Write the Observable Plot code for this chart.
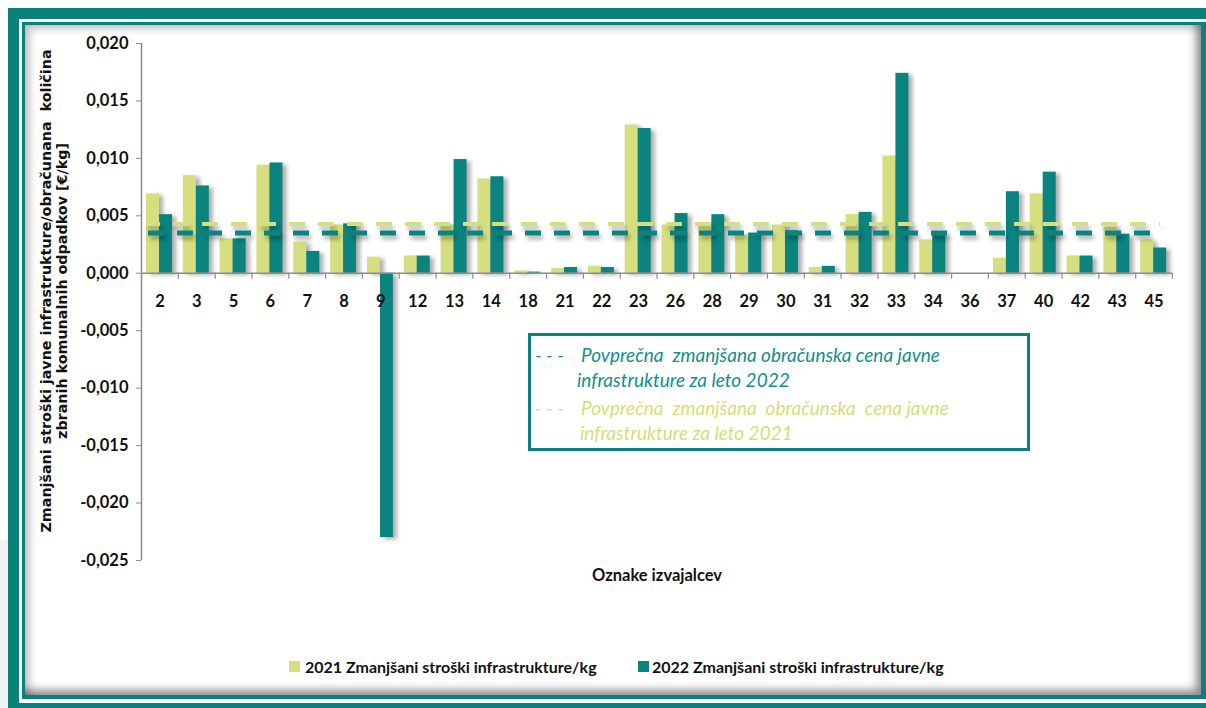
<!DOCTYPE html>
<html>
<head>
<meta charset="utf-8">
<script src="https://cdn.jsdelivr.net/npm/d3@7"></script>
<script src="https://cdn.jsdelivr.net/npm/@observablehq/plot@0.6"></script>
<style>
  html, body { margin: 0; padding: 0; background: #ffffff; width: 1206px; height: 708px; overflow: hidden; font-family: Lato, "Open Sans", sans-serif; }
  .abs { position: absolute; }
  #sideGray { left: 0; top: 540px; width: 8px; height: 168px; background: #eef2f2; }
  #outer { left: 8px; top: 8px; width: 1300px; height: 800px; background: #0b817c; }
  #gap { left: 19px; top: 19px; width: 1300px; height: 684px; background: #ffffff; }
  #inner { left: 22px; top: 22px; width: 1300px; height: 677px; background: #0b817c; }
  #panel { left: 25px; top: 25px; width: 1176px; height: 670px; background: #ffffff;
           box-shadow: inset 7px 6px 8px -3px rgba(0,0,0,0.28), inset -8px -8px 8px -3px rgba(0,0,0,0.45); }
  #chart { left: 0; top: 0; }
  #chart svg g[aria-label="bar"] { filter: drop-shadow(4px 2px 2px rgba(0,0,0,0.32)); }
  #chart svg g[aria-label="rule"][stroke-dasharray] { filter: drop-shadow(2px 4px 2px rgba(0,0,0,0.30)); }
  #avgBox { left: 528px; top: 333px; width: 496px; height: 112px; border: 3px solid #0b817c; }
  .avgLine { position: absolute; font-style: italic; font-size: 19px; white-space: pre; line-height: 1; }
  #legend { left: 0; top: 656px; width: 1206px; height: 22px; }
  .sw { position: absolute; width: 11px; height: 11px; top: 5px; }
  .lt { position: absolute; top: 0; font-weight: bold; font-size: 16px; color: #111; white-space: nowrap; line-height: 22px; }
</style>
</head>
<body>
<div id="sideGray" class="abs"></div>
<div id="outer" class="abs"></div>
<div id="gap" class="abs"></div>
<div id="inner" class="abs"></div>
<div id="panel" class="abs"></div>
<div id="chart" class="abs"></div>
<div id="avgBox" class="abs"></div>
<div id="legend" class="abs"></div>
<script>
// ---- data ----
const categories = ["2","3","5","6","7","8","9","12","13","14","18","21","22","23","26","28","29","30","31","32","33","34","36","37","40","42","43","45"];
const values2021 = [0.0069,0.0085,0.0030,0.0094,0.0027,0.0042,0.0014,0.0015,0.0042,0.0082,0.0002,0.0004,0.0006,0.0129,0.0042,0.0042,0.0033,0.0042,0.0005,0.0051,0.0102,0.0029,0,0.0013,0.0069,0.0015,0.0040,0.0029];
const values2022 = [0.0051,0.0076,0.0030,0.0096,0.0019,0.0043,-0.0230,0.0015,0.0099,0.0084,0.0001,0.0005,0.0005,0.0126,0.0052,0.0051,0.0035,0.0037,0.0006,0.0053,0.0174,0.0035,0,0.0071,0.0088,0.0015,0.0034,0.0022];
const average2021 = 0.0043;
const average2022 = 0.0035;
const yTicks = [0.020,0.015,0.010,0.005,0,-0.005,-0.010,-0.015,-0.020,-0.025];
const seriesNames = ["2021 Zmanjšani stroški infrastrukture/kg", "2022 Zmanjšani stroški infrastrukture/kg"];
const averageNames2022 = ["Povprečna  zmanjšana obračunska cena javne", "infrastrukture za leto 2022"];
const averageNames2021 = ["Povprečna  zmanjšana  obračunska  cena javne", "infrastrukture za leto 2021"];
const yTitle = "Zmanjšani stroški javne infrastrukture/obračunana  količina\nzbranih komunalnih odpadkov [€/kg]";
const xTitle = "Oznake izvajalcev";

// ---- style ----
const c2021 = "#d5df80";
const c2022 = "#0b837e";
const axisGray = "#8c8c8c";
const W = 1206, H = 620;
const mL = 141, mR = 34, mT = 43, mB = H - 560;
const bw = (W - mL - mR) / categories.length;

const rows = categories.map((c, i) => ({cat: c, v2021: values2021[i], v2022: values2022[i]}));
const fmt = d => (d < 0 ? "-" : "") + Math.abs(d).toFixed(3).replace(".", ",");

const plot = Plot.plot({
  width: W, height: H,
  marginLeft: mL, marginRight: mR, marginTop: mT, marginBottom: mB,
  style: {background: "transparent", fontFamily: "Lato, sans-serif", overflow: "visible"},
  x: {type: "band", domain: categories, padding: 0, round: false, axis: null},
  y: {domain: [-0.025, 0.020], axis: null},
  marks: [
    Plot.barY(rows, {x: "cat", y: "v2021", fill: c2021, insetLeft: 5, insetRight: bw - 18}),
    Plot.barY(rows, {x: "cat", y: "v2022", fill: c2022, insetLeft: 18, insetRight: bw - 31}),
    Plot.ruleY([0], {stroke: axisGray, strokeWidth: 1.5}),
    Plot.ruleX(categories, {x: d => d, dx: -bw / 2, y1: 0, y2: 0, insetBottom: -6, stroke: axisGray, strokeWidth: 1.2}),
    Plot.ruleX(categories.slice(-1), {x: d => d, dx: bw / 2, y1: 0, y2: 0, insetBottom: -6, stroke: axisGray, strokeWidth: 1.2}),
    Plot.ruleX(categories.slice(0, 1), {x: d => d, dx: -bw / 2, stroke: axisGray, strokeWidth: 1.5}),
    Plot.axisY({ticks: yTicks, tickFormat: fmt, tickSize: 5, tickPadding: 8, stroke: axisGray,
                fontSize: 16.5, fontWeight: "bold", fill: "#111", label: null}),
    Plot.text(categories, {x: d => d, y: 0, dy: 28, text: d => d, fontSize: 16.5, fontWeight: "bold", fill: "#111"}),
    Plot.ruleY([average2021], {stroke: c2021, strokeWidth: 4, strokeDasharray: "16 13", strokeDashoffset: 2, insetLeft: 5, insetRight: 12}),
    Plot.ruleY([average2022], {stroke: c2022, strokeWidth: 5, strokeDasharray: "16 13", insetLeft: 7, insetRight: 12}),
    Plot.text([yTitle], {frameAnchor: "left", textAnchor: "middle", dx: -88, dy: -11, rotate: -90, lineAnchor: "middle", lineHeight: 1.15,
                         fontSize: 14.3, fontWeight: "bold", fontFamily: "DejaVu Sans", fill: "#111"}),
    Plot.text([xTitle], {frameAnchor: "bottom", dy: 20, fontSize: 16.5, fontWeight: "bold", fill: "#111"})
  ]
});
document.getElementById("chart").appendChild(plot);

// ---- averages box ----
const box = document.getElementById("avgBox");
const boxLines = [
  {t: "- - -", c: "#138f8a", x: 4, y: 9},
  {t: averageNames2022[0], c: "#138f8a", x: 50, y: 9},
  {t: averageNames2022[1], c: "#138f8a", x: 46, y: 34},
  {t: "- - -", c: "#d3df76", x: 4, y: 62},
  {t: averageNames2021[0], c: "#d3df76", x: 50, y: 62},
  {t: averageNames2021[1], c: "#d3df76", x: 49, y: 87}
];
boxLines.forEach(l => {
  const d = document.createElement("div");
  d.className = "avgLine";
  d.style.left = l.x + "px"; d.style.top = l.y + "px"; d.style.color = l.c;
  d.textContent = l.t;
  box.appendChild(d);
});

// ---- series legend ----
const leg = document.getElementById("legend");
[{n: seriesNames[0], c: c2021, sx: 289, tx: 305}, {n: seriesNames[1], c: c2022, sx: 638, tx: 652}].forEach(s => {
  const sw = document.createElement("div");
  sw.className = "sw"; sw.style.left = s.sx + "px"; sw.style.background = s.c;
  const t = document.createElement("div");
  t.className = "lt"; t.style.left = s.tx + "px"; t.textContent = s.n;
  leg.appendChild(sw); leg.appendChild(t);
});
</script>
</body>
</html>
